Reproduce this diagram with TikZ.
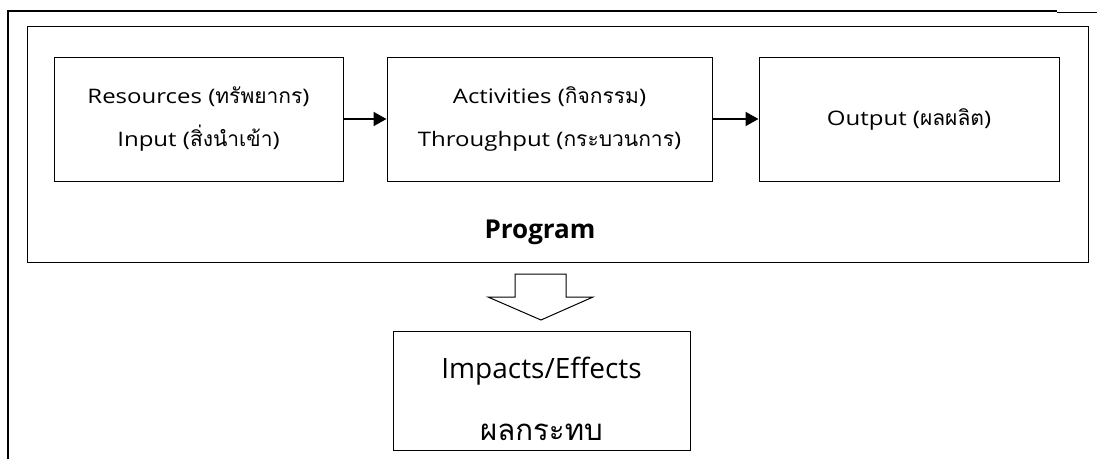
\documentclass[tikz,border=0pt]{standalone}
\usepackage{fontspec}
\setmainfont{Open Sans}
\newfontfamily\widefont[FakeStretch=1.2]{Open Sans}
\newfontfamily\thaifont[Script=Thai,Scale=1.05]{Loma}
\newcommand{\thaitxt}[1]{{\thaifont #1}}
\usetikzlibrary{positioning, arrows.meta}

\tikzset{
  stagebox/.style={draw, line width=1pt, minimum height=124pt, align=center,
    inner sep=0pt, font=\widefont\fontsize{20}{43}\selectfont},
  flow/.style={-{Triangle[length=13pt,width=14pt]}, line width=2pt}
}

\begin{document}
\begin{tikzpicture}[x=1pt,y=-1pt]
	\useasboundingbox (0,0) rectangle (1097,459);
	% frame
	\draw[line width=2pt] (8,459) -- (8,11) -- (1057,11);
	\draw[line width=0.8pt] (1057,12) -- (1097,12);
	
	\node[draw, line width=1pt, minimum width=1061pt, minimum height=236pt, inner sep=0pt] (prog) at (557.5,144) {};
	
	\node[stagebox, minimum width=289pt] (res) at (198.5,119) {Resources (\thaitxt{ทรัพยากร})\\Input (\thaitxt{สิ่งนำเข้า})};
	\node[stagebox, minimum width=325pt, right = 43pt of res] (act) {Activities (\thaitxt{กิจกรรม})\\Throughput (\thaitxt{กระบวนการ})};
	\node[stagebox, minimum width=300pt, right = 46pt of act] (out) {Output (\thaitxt{ผลผลิต})};
	
	\draw[flow] (res) -- (act);
	\draw[flow] (act) -- (out);
	
	\node[font=\fontsize{26}{26}\selectfont\bfseries] (proglbl) at (540,232) {Program};
	
	\node[draw, line width=1pt, minimum width=297pt, minimum height=119pt, align=center, inner sep=0pt,
	      font=\fontsize{28}{62}\selectfont] (imp) at (541.5,390.5) {\rule{0pt}{38pt}Impacts/Effects\\\thaitxt{ผลกระทบ}};
	
	% block arrow
	\draw[line width=1pt, fill=white] (515,274) -- (566,274) -- (566,297) -- (593,297) -- (541,320)
	  -- (488,297) -- (515,297) -- cycle;
\end{tikzpicture}
\end{document}
